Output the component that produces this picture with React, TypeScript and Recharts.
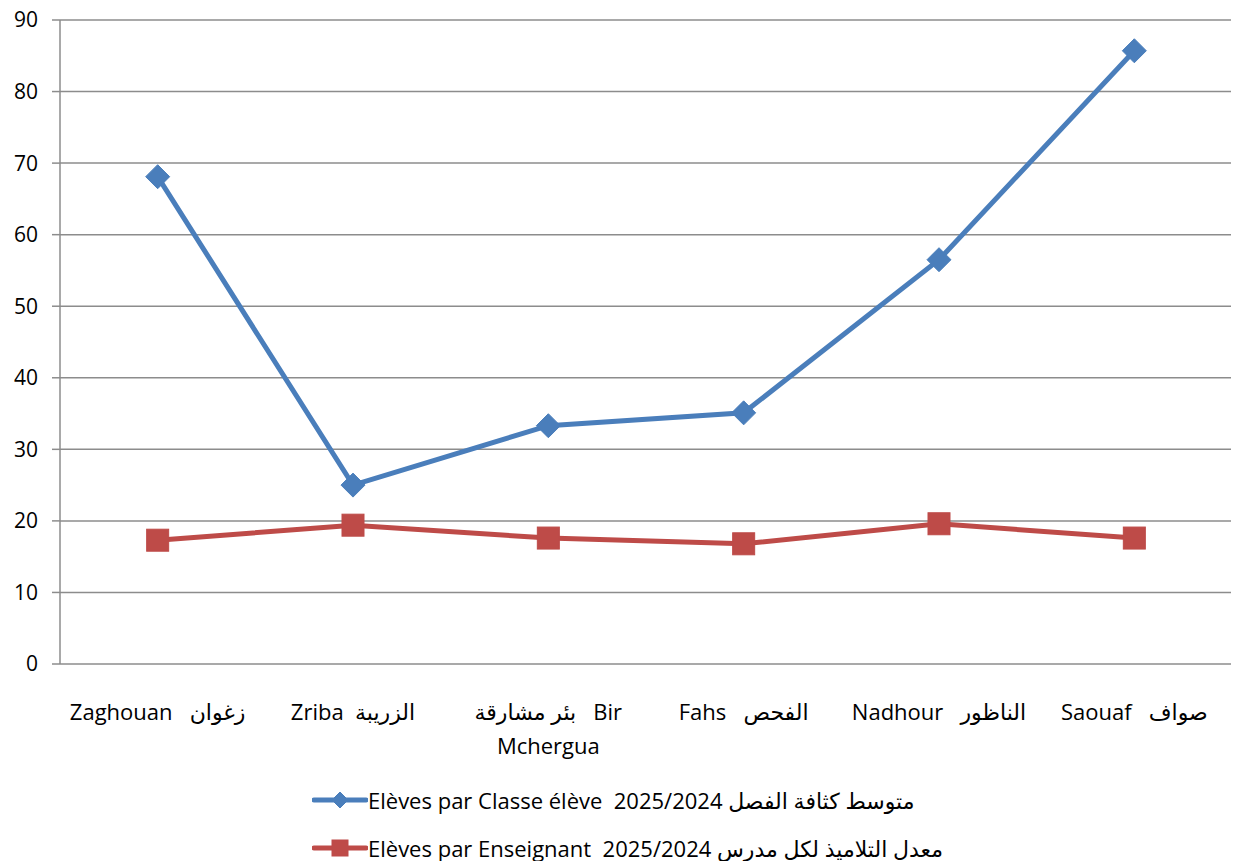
import React from 'react';
import { LineChart, Line, XAxis, YAxis, CartesianGrid, Legend } from 'recharts';

const categories = ['Zaghouan', 'Zriba', 'Bir Mchergua', 'Fahs', 'Nadhour', 'Saouaf'];
const tickLabels: string[][] = [
  ['Zaghouan   زغوان'],
  ['Zriba  الزريبة'],
  ['بئر مشارقة   Bir', 'Mchergua'],
  ['Fahs   الفحص'],
  ['Nadhour   الناظور'],
  ['Saouaf   صواف'],
];
const classeValues = [68.1, 25.0, 33.3, 35.1, 56.5, 85.7];
const enseignantValues = [17.3, 19.4, 17.6, 16.8, 19.6, 17.6];
const yTicks = [0, 10, 20, 30, 40, 50, 60, 70, 80, 90];
const boundaryTicks = [0, 1, 2, 3, 4, 5, 6];
const seriesNames = [
  'Elèves par Classe élève  2025/2024 متوسط كثافة الفصل',
  'Elèves par Enseignant  2025/2024 معدل التلاميذ لكل مدرس',
];

const BLUE = '#4a7ebb';
const RED = '#be4b48';
const GRID = '#8c8c8c';
const FONT = '"Open Sans", "DejaVu Sans", sans-serif';

const data = categories.map((c, i) => ({
  cat: c,
  classe: classeValues[i],
  ens: enseignantValues[i],
  idx: i,
}));

const Diamond = (props: any) => {
  const { cx, cy, half = 12 } = props;
  if (cx == null || cy == null) return null;
  return (
    <path
      d={`M${cx},${cy - half} L${cx + half},${cy} L${cx},${cy + half} L${cx - half},${cy} Z`}
      fill={BLUE}
      stroke={BLUE}
      strokeWidth={1}
    />
  );
};

const Square = (props: any) => {
  const { cx, cy, half = 11 } = props;
  if (cx == null || cy == null) return null;
  return <rect x={cx - half} y={cy - half} width={2 * half} height={2 * half} fill={RED} stroke={RED} strokeWidth={1} />;
};

const CatTick = (props: any) => {
  const { x, y, index } = props;
  const lines = tickLabels[index] || [];
  return (
    <g>
      {lines.map((l, i) => (
        <text
          key={i}
          x={x}
          y={y + 48 + i * 34}
          textAnchor="middle"
          fill="#000"
          fontSize={22}
          fontFamily={FONT}
          direction="ltr"
          style={{ whiteSpace: 'pre' }}
        >
          {l}
        </text>
      ))}
    </g>
  );
};

const renderLegend = () => (
  <div style={{ fontFamily: FONT, fontSize: 22, color: '#000' }}>
    {seriesNames.map((n, i) => (
      <div key={n} style={{ display: 'flex', alignItems: 'center', height: 48, whiteSpace: 'pre' }}>
        <svg width={56} height={26} style={{ marginRight: 0 }}>
          <line x1={2} y1={13} x2={54} y2={13} stroke={i === 0 ? BLUE : RED} strokeWidth={5} strokeLinecap="round" />
          {i === 0 ? <Diamond cx={28} cy={13} half={8} /> : <Square cx={28} cy={13} half={8} />}
        </svg>
        <span style={{ direction: 'ltr', whiteSpace: 'pre' }}>{n}</span>
      </div>
    ))}
  </div>
);

export default function App() {
  return (
    <div style={{ width: 1231, height: 853, fontFamily: FONT }}>
      <LineChart
        width={1231}
        height={853}
        data={data}
        margin={{ top: 12, right: 7, left: 0, bottom: 0 }}
      >
        <CartesianGrid horizontal vertical={false} stroke={GRID} strokeWidth={1.5} />
        <XAxis
          xAxisId="bounds"
          type="number"
          domain={[0, 6]}
          ticks={boundaryTicks}
          allowDataOverflow
          height={0}
          tick={false}
          tickSize={7}
          tickLine={{ stroke: GRID, strokeWidth: 1.5 }}
          axisLine={{ stroke: GRID, strokeWidth: 1.5 }}
        />
        <XAxis
          xAxisId="cat"
          dataKey="cat"
          scale="band"
          height={197}
          interval={0}
          tickLine={false}
          axisLine={false}
          tick={<CatTick />}
        />
        <YAxis
          domain={[0, 90]}
          ticks={yTicks}
          width={52}
          tickSize={8}
          tickMargin={14}
          interval={0}
          axisLine={{ stroke: GRID, strokeWidth: 1.5 }}
          tickLine={{ stroke: GRID, strokeWidth: 1.5 }}
          tick={{ fill: '#000', fontSize: 21, fontFamily: FONT }}
        />
        <Legend
          verticalAlign="middle"
          align="center"
          layout="vertical"
          content={renderLegend}
          wrapperStyle={{ top: 768, left: 304, width: 'auto' }}
        />
        <Line
          xAxisId="cat"
          type="linear"
          dataKey="classe"
          name={seriesNames[0]}
          stroke={BLUE}
          strokeWidth={5}
          dot={<Diamond />}
          activeDot={false}
          isAnimationActive={false}
        />
        <Line
          xAxisId="cat"
          type="linear"
          dataKey="ens"
          name={seriesNames[1]}
          stroke={RED}
          strokeWidth={5}
          dot={<Square />}
          activeDot={false}
          isAnimationActive={false}
        />
      </LineChart>
    </div>
  );
}
